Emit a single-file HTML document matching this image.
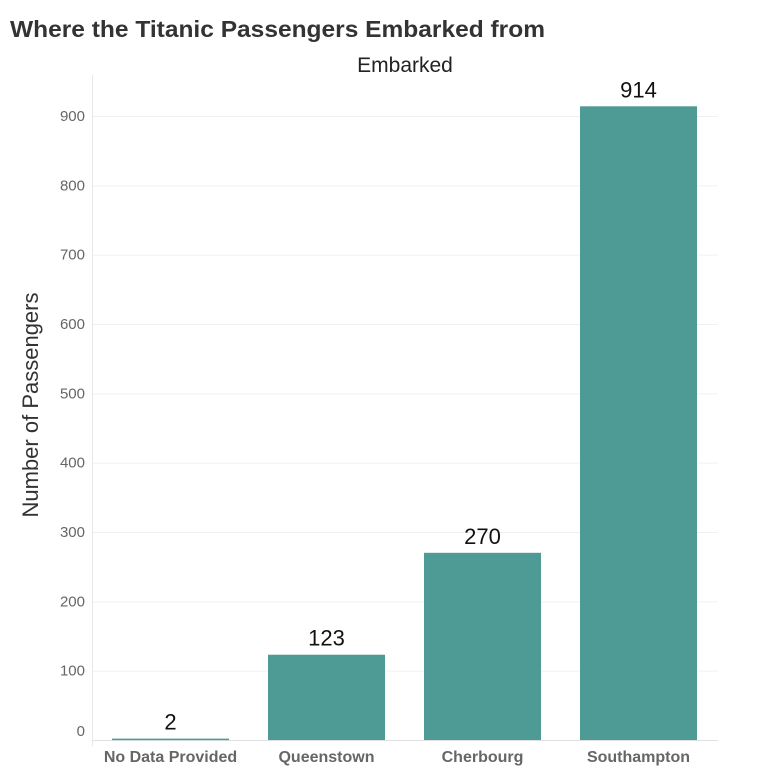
<!DOCTYPE html>
<html><head><meta charset="utf-8"><style>
body{margin:0;background:#fff;width:757px;height:775px;overflow:hidden;font-family:"Liberation Sans",sans-serif}
</style></head><body>
<svg id="chart" width="757" height="775" xmlns="http://www.w3.org/2000/svg">
<text x="10" y="37" font-size="23" font-weight="bold" fill="#333" textLength="535" lengthAdjust="spacingAndGlyphs">Where the Titanic Passengers Embarked from</text>
<text x="405" y="72" font-size="21" text-anchor="middle" fill="#222">Embarked</text>
<text transform="translate(38,405) rotate(-90)" font-size="22" text-anchor="middle" fill="#333">Number of Passengers</text>
<line x1="92.5" y1="75" x2="92.5" y2="746" stroke="#e8e8e8"/>
<g id="grid"></g><g id="bars"></g>
</svg>
<script>
const categories = ["No Data Provided","Queenstown","Cherbourg","Southampton"];
const values = [2,123,270,914];
const yTicks = [0,100,200,300,400,500,600,700,800,900];
const svg = document.getElementById('chart');
const NS = "http://www.w3.org/2000/svg";
const y0 = 740, pxPer = 624/900, left = 93, band = 156, barW = 117, pad = 19;
const yScale = v => y0 - v*pxPer;
const xScale = i => left + i*band + pad;
function mk(tag, attrs, parent){const e=document.createElementNS(NS,tag);for(const k in attrs)e.setAttribute(k,attrs[k]);parent.appendChild(e);return e;}
const grid = document.getElementById('grid'), bars = document.getElementById('bars');
yTicks.forEach(t=>{
  const y=yScale(t);
  const l=mk('line',{x1:93,x2:718,y1:y+0.5,y2:y+0.5,stroke:t===0?'#e0e0e0':'#f0f0f0'},grid);
  
  
  const tx=mk('text',{x:85,y:(t===0?y-4:y+5),'font-size':15,'text-anchor':'end',fill:'#666'},grid);
  tx.textContent=t;
  
  
});
categories.forEach((c,i)=>{
  const x=xScale(i), y=yScale(values[i]);
  const r=mk('rect',{x:x,y:y,width:barW,height:Math.max(y0-y,1.5),fill:'#4e9a95'},bars);
  
  
  const v=mk('text',{x:x+barW/2,y:y-9,'font-size':22,'text-anchor':'middle',fill:'#111'},bars);
  v.textContent=values[i];
  
  
  const lb=mk('text',{x:x+barW/2,y:762,'font-size':16,'font-weight':'bold','text-anchor':'middle',fill:'#666'},bars);
  lb.textContent=c;
  
  
});
</script>
</body></html>
